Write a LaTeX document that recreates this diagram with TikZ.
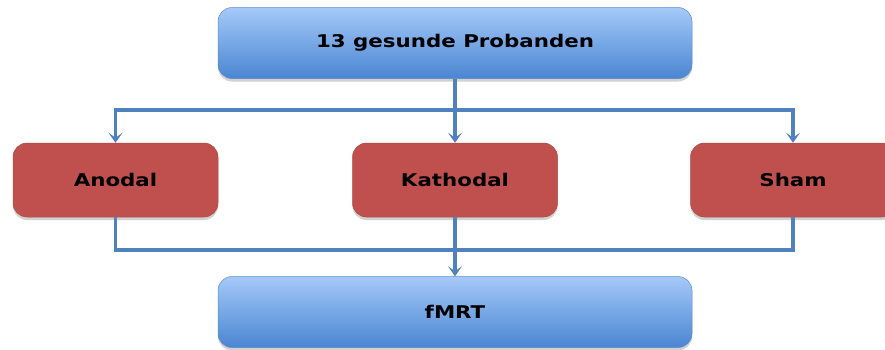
\documentclass[tikz,border=0pt]{standalone}
\usepackage{fontspec}
\setmainfont{DejaVu Sans}[FakeStretch=1.22]
\usetikzlibrary{arrows.meta,shadows}
\definecolor{lineblue}{HTML}{4F81BD}
\definecolor{boxtop}{HTML}{A5C9F9}
\definecolor{boxbot}{HTML}{4A86D2}
\definecolor{boxborder}{HTML}{5B8BC8}
\definecolor{redfill}{HTML}{C0504D}
\definecolor{redborder}{HTML}{B04A47}
\begin{document}
\begin{tikzpicture}[x=1pt,y=-1pt,
  boxshadow/.style={drop shadow={shadow xshift=0pt,shadow yshift=-3pt,opacity=0.3,fill=black!60}},
  bluebox/.style={rounded corners=14pt, top color=boxtop, bottom color=boxbot,
    draw=boxborder, line width=0.5pt, minimum width=474pt, minimum height=71pt,
    inner sep=0pt, boxshadow},
  redbox/.style={rounded corners=14pt, fill=redfill, draw=redborder, line width=0.5pt,
    minimum width=205pt, minimum height=74pt, inner sep=0pt, boxshadow},
  link/.style={draw=lineblue, line width=3.2pt, line join=miter},
  arr/.style={link, -{Stealth[length=10pt,width=14pt,inset=5pt]}},
  font=\fontsize{17.5}{21}\selectfont\bfseries]
\useasboundingbox (0,0) rectangle (885,349);
\node[bluebox] (top) at (455,43) {13 gesunde Probanden};
\node[redbox] (an) at (115.5,180) {Anodal};
\node[redbox] (ka) at (455,180) {Kathodal};
\node[redbox] (sh) at (793,180) {Sham};
\node[bluebox] (fm) at (455,312) {fMRT};
\coordinate (jk) at (455,110);
\coordinate (bk) at (455,250);
\draw[arr] (top.south) -- (jk) -| (an.north);
\draw[arr] (jk) -| (sh.north);
\draw[arr] (jk) -- (ka.north);
\draw[link] (an.south) |- (bk);
\draw[link] (sh.south) |- (bk);
\draw[link] (ka.south) -- (bk);
\draw[arr] (bk) -- (fm.north);
\end{tikzpicture}
\end{document}
